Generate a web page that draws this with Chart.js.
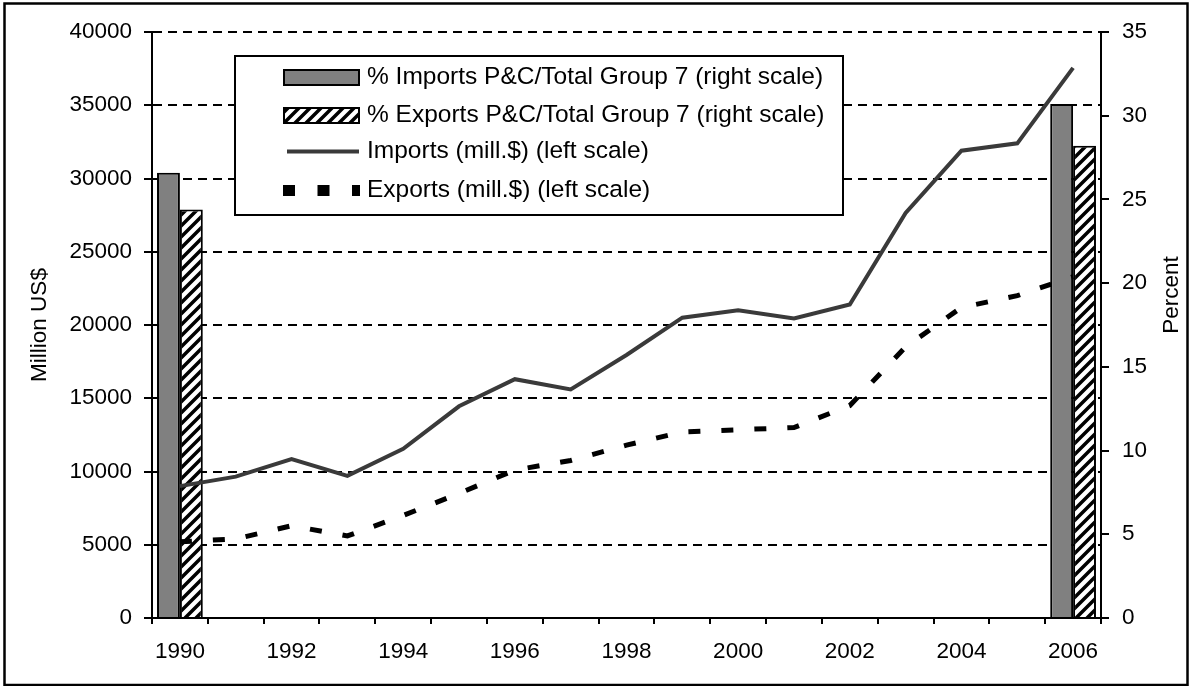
<!DOCTYPE html>
<html>
<head>
<meta charset="utf-8">
<script src="https://cdn.jsdelivr.net/npm/chart.js@4.4.1/dist/chart.umd.min.js"></script>
<style>
  body { margin: 0; background: #fff; }
</style>
</head>
<body>
<canvas id="chart" width="1192" height="686"></canvas>
<script>
// categories
var years = ["1990", "1991", "1992", "1993", "1994", "1995", "1996", "1997", "1998",
             "1999", "2000", "2001", "2002", "2003", "2004", "2005", "2006"];

// left scale, million US$
var importsMill = [9000, 9650, 10850, 9700, 11550, 14450, 16300, 15600, 17950,
                   20500, 21000, 20450, 21400, 27650, 31900, 32400, 37550];
var exportsMill = [5200, 5400, 6300, 5600, 7000, 8500, 10100, 10750, 11800,
                   12700, 12850, 13000, 14500, 18500, 21200, 22000, 23300];

// right scale, percent (only first and last year)
var importsShare = [26.6, null, null, null, null, null, null, null, null,
                    null, null, null, null, null, null, null, 30.7];
var exportsShare = [24.4, null, null, null, null, null, null, null, null,
                    null, null, null, null, null, null, null, 28.2];

var leftTicks = { min: 0, max: 40000, step: 5000 };
var rightTicks = { min: 0, max: 35, step: 5 };

var seriesLabels = [
    "% Imports P&C/Total Group 7 (right scale)",
    "% Exports P&C/Total Group 7 (right scale)",
    "Imports (mill.$) (left scale)",
    "Exports (mill.$) (left scale)"
];

var FONT = '"Liberation Sans", Arial, sans-serif';
Chart.defaults.font.family = FONT;
Chart.defaults.font.size = 22.5;
Chart.defaults.color = "#000";

var ctx = document.getElementById("chart").getContext("2d");

function hatchPattern() {
    var s = 11;
    var c = document.createElement("canvas");
    c.width = s; c.height = s;
    var g = c.getContext("2d");
    g.fillStyle = "#fff";
    g.fillRect(0, 0, s, s);
    g.strokeStyle = "#000";
    g.lineWidth = 3.5;
    g.beginPath();
    g.moveTo(0, s); g.lineTo(s, 0);
    g.moveTo(-2, 2); g.lineTo(2, -2);
    g.moveTo(s - 2, s + 2); g.lineTo(s + 2, s - 2);
    g.stroke();
    return ctx.createPattern(c, "repeat");
}

// legend box drawn inside the plot, like the excel one
var boxLegend = {
    id: "boxLegend",
    afterDraw: function (chart, args, o) {
        var c = chart.ctx;
        c.save();
        c.fillStyle = "#fff";
        c.fillRect(o.x, o.y, o.w, o.h);
        c.lineWidth = 2;
        c.strokeStyle = "#000";
        c.strokeRect(o.x, o.y, o.w, o.h);
        chart.data.datasets.forEach(function (ds, i) {
            var cy = o.rows[i];
            if (ds.type === "bar") {
                c.fillStyle = ds.backgroundColor;
                c.fillRect(o.swatchX, cy - 7.5, 75, 15);
                c.lineWidth = 2;
                c.strokeStyle = "#000";
                c.strokeRect(o.swatchX, cy - 7.5, 75, 15);
            } else if (ds.borderDash && ds.borderDash.length) {
                c.beginPath();
                c.setLineDash([12, 22.5]);
                c.lineWidth = 11;
                c.strokeStyle = ds.borderColor;
                c.moveTo(o.swatchX - 1, cy);
                c.lineTo(o.swatchX + 76, cy);
                c.stroke();
                c.setLineDash([]);
            } else {
                c.beginPath();
                c.lineWidth = ds.borderWidth;
                c.strokeStyle = ds.borderColor;
                c.moveTo(o.swatchX + 3, cy);
                c.lineTo(o.swatchX + 75, cy);
                c.stroke();
            }
            c.fillStyle = "#000";
            c.font = o.fontSize + "px " + FONT;
            c.textBaseline = "middle";
            c.textAlign = "left";
            c.fillText(ds.label, o.textX, cy);
        });
        c.restore();
    }
};

// outer frame and both axis titles (both read bottom to top)
var frameAndTitles = {
    id: "frameAndTitles",
    afterDraw: function (chart, args, o) {
        var c = chart.ctx;
        c.save();
        c.lineWidth = 2.5;
        c.strokeStyle = "#000";
        c.strokeRect(4.5, 3.5, 1183, 681.5);
        c.fillStyle = "#000";
        c.font = o.fontSize + "px " + FONT;
        c.textAlign = "center";
        c.textBaseline = "middle";
        o.titles.forEach(function (t) {
            c.save();
            c.translate(t.x, t.y);
            c.rotate(-Math.PI / 2);
            c.fillText(t.text, 0, 0);
            c.restore();
        });
        c.restore();
    }
};

new Chart(ctx, {
    type: "bar",
    data: {
        labels: years,
        datasets: [
            {
                type: "bar",
                label: seriesLabels[0],
                data: importsShare,
                yAxisID: "y1",
                backgroundColor: "#808080",
                borderColor: "#000",
                borderWidth: 2,
                order: 2
            },
            {
                type: "bar",
                label: seriesLabels[1],
                data: exportsShare,
                yAxisID: "y1",
                backgroundColor: hatchPattern(),
                borderColor: "#000",
                borderWidth: 2,
                order: 2
            },
            {
                type: "line",
                label: seriesLabels[2],
                data: importsMill,
                yAxisID: "y",
                borderColor: "#3a3a3a",
                borderWidth: 4,
                pointRadius: 0,
                tension: 0,
                order: 1
            },
            {
                type: "line",
                label: seriesLabels[3],
                data: exportsMill,
                yAxisID: "y",
                borderColor: "#000",
                borderWidth: 5,
                borderDash: [12, 21],
                borderCapStyle: "butt",
                pointRadius: 0,
                tension: 0,
                order: 0
            }
        ]
    },
    options: {
        responsive: false,
        animation: false,
        layout: { padding: { top: 32, left: 0, right: 0, bottom: 0 } },
        datasets: {
            bar: { categoryPercentage: 0.82, barPercentage: 1 }
        },
        plugins: {
            legend: { display: false },
            tooltip: { enabled: false },
            boxLegend: {
                x: 235, y: 56, w: 608, h: 159,
                rows: [77.5, 115.5, 151.5, 190.5],
                swatchX: 284, textX: 367, fontSize: 24.5
            },
            frameAndTitles: {
                fontSize: 22.5,
                titles: [
                    { text: "Million US$", x: 40, y: 325 },
                    { text: "Percent", x: 1172, y: 295 }
                ]
            }
        },
        scales: {
            x: {
                offset: true,
                border: { display: true, color: "#000", width: 2 },
                grid: { drawOnChartArea: false, color: "#000", lineWidth: 2, tickLength: 6, offset: true },
                ticks: {
                    autoSkip: false,
                    maxRotation: 0,
                    padding: 14,
                    callback: function (v, i) { return i % 2 === 0 ? years[i] : ""; }
                },
                afterFit: function (s) { s.height = 68; }
            },
            y: {
                position: "left",
                min: leftTicks.min,
                max: leftTicks.max,
                border: { display: true, color: "#000", width: 2, dash: [9, 6] },
                grid: { color: "#000", lineWidth: 2, tickLength: 8 },
                ticks: {
                    stepSize: leftTicks.step,
                    padding: 12,
                    callback: function (v) { return String(v); }
                },
                afterFit: function (s) { s.width = 152; }
            },
            y1: {
                position: "right",
                min: rightTicks.min,
                max: rightTicks.max,
                border: { display: true, color: "#000", width: 2 },
                grid: { drawOnChartArea: false, color: "#000", lineWidth: 2, tickLength: 8 },
                ticks: {
                    stepSize: rightTicks.step,
                    padding: 13,
                    callback: function (v) { return String(v); }
                },
                afterFit: function (s) { s.width = 91; }
            }
        }
    },
    plugins: [boxLegend, frameAndTitles]
});
</script>
</body>
</html>
